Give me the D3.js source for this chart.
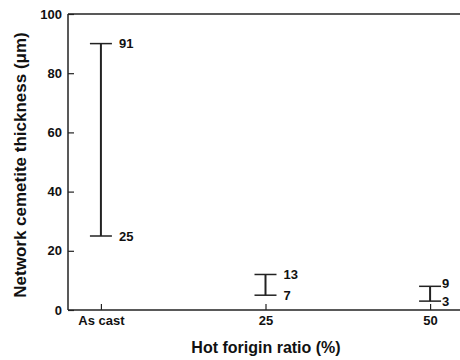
<!DOCTYPE html>
<meta charset="utf-8">
<style>
body { margin: 0; background: #fff; }
text { font-family: "Liberation Sans", Arial, sans-serif; font-weight: bold; fill: #111; }
</style>
<svg width="460" height="360"></svg>
<script src="https://d3js.org/d3.v7.min.js"></script>
<script>

var categories = ["As cast", "25", "50"];
// bar ends as drawn in the picture
var minValues = [25, 5, 3];
var maxValues = [90, 12, 8];
// numbers printed beside the bar ends
var minLabels = ["25", "7", "3"];
var maxLabels = ["91", "13", "9"];
var yTicks = [0, 20, 40, 60, 80, 100];

var svg = d3.select("svg"),
    mLeft = 68, mTop = 14, mBottom = 310, mRight = 463;

var x = d3.scalePoint()
    .domain(categories)
    .range([mLeft, mRight])
    .padding(0.2);

var y = d3.scaleLinear()
    .domain([0, 100])
    .range([mBottom, mTop]);

var ink = "#222";

// left axis, bottom axis and top border
svg.append("line")
    .attr("x1", mLeft).attr("x2", mLeft)
    .attr("y1", y(0)).attr("y2", y(100))
    .style("stroke", ink).style("stroke-width", 1.5);
svg.append("line")
    .attr("x1", mLeft).attr("x2", 460)
    .attr("y1", y(0)).attr("y2", y(0))
    .style("stroke", ink).style("stroke-width", 1.5);
svg.append("line")
    .attr("x1", mLeft).attr("x2", 460)
    .attr("y1", y(100)).attr("y2", y(100))
    .style("stroke", ink).style("stroke-width", 1.5);

var yAxis = svg.append("g")
    .attr("transform", "translate(" + mLeft + ",0)")
    .call(d3.axisLeft(y).tickValues(yTicks).tickSize(-6).tickPadding(6));
var xAxis = svg.append("g")
    .attr("transform", "translate(0," + mBottom + ")")
    .call(d3.axisBottom(x).tickSize(-6).tickPadding(6));

[yAxis, xAxis].forEach(function(a) {
  a.select(".domain").remove();
  a.selectAll(".tick line").style("stroke", ink).style("stroke-width", 1.2);
  a.selectAll(".tick text").style("font-size", "13px").style("font-family", null);
});

// error bars
var bars = svg.append("g").selectAll("g")
  .data(categories.map(function(c, i) {
    return {cat: c, lo: minValues[i], hi: maxValues[i], loLabel: minLabels[i], hiLabel: maxLabels[i]};
  }))
  .enter().append("g");

var cap = 11;

bars.append("line")
    .attr("x1", function(d) { return x(d.cat); })
    .attr("x2", function(d) { return x(d.cat); })
    .attr("y1", function(d) { return y(d.lo); })
    .attr("y2", function(d) { return y(d.hi); })
    .style("stroke", ink).style("stroke-width", 2);

["lo", "hi"].forEach(function(k) {
  bars.append("line")
      .attr("x1", function(d) { return x(d.cat) - cap; })
      .attr("x2", function(d) { return x(d.cat) + cap; })
      .attr("y1", function(d) { return y(d[k]); })
      .attr("y2", function(d) { return y(d[k]); })
      .style("stroke", ink).style("stroke-width", 1.5);

  bars.append("text")
      .attr("x", function(d) { return x(d.cat) + (d.cat === "50" ? cap + 1 : cap + 7); })
      .attr("y", function(d) { return y(d[k]) - (d.cat === "50" && k === "hi" ? 3 : 0); })
      .attr("dy", "0.35em")
      .style("font-size", "13px")
      .text(function(d) { return d[k + "Label"]; });
});

// axis titles
svg.append("text")
    .attr("x", 266)
    .attr("y", 353)
    .attr("text-anchor", "middle")
    .style("font-size", "16px")
    .text("Hot forigin ratio (%)");

svg.append("text")
    .attr("transform", "translate(26,165) rotate(-90)")
    .attr("text-anchor", "middle")
    .style("font-size", "17px")
    .text("Network cemetite thickness (\u03bcm)");

</script>
